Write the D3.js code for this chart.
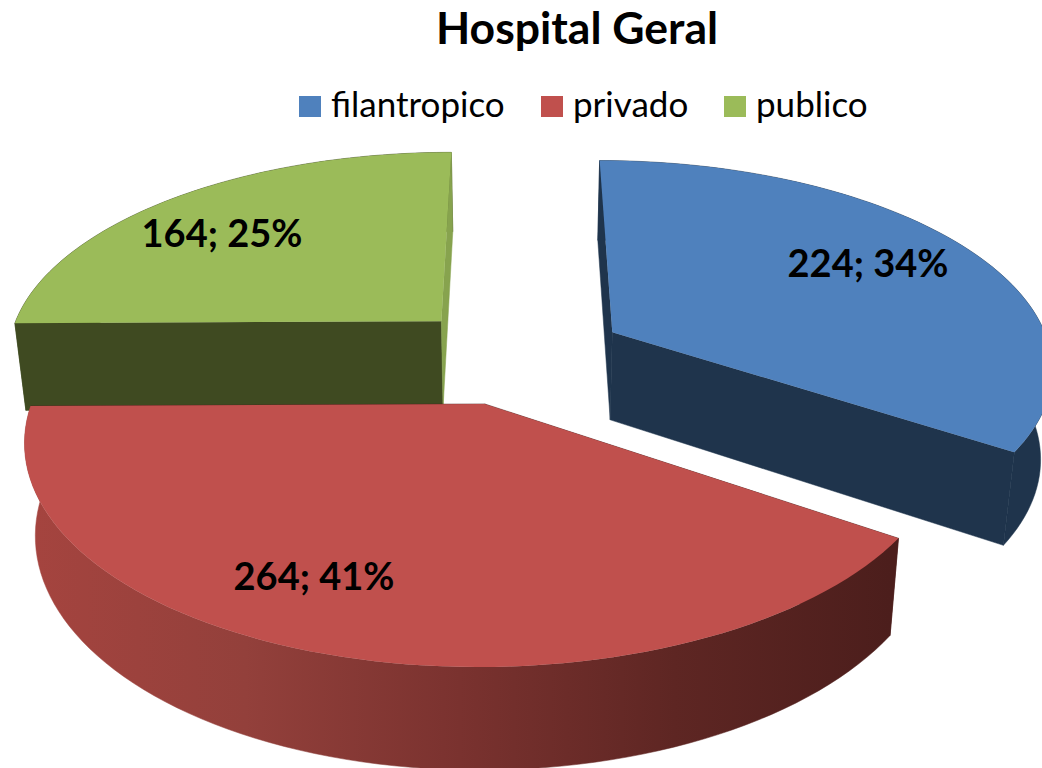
<!DOCTYPE html>
<html><head><meta charset="utf-8">
<script src="https://cdn.jsdelivr.net/npm/d3@7"></script>
<style>html,body{margin:0;padding:0;background:#fff;overflow:hidden}svg{display:block}text{font-family:Lato,"Open Sans",sans-serif}</style>
</head><body><svg id="c" width="1042" height="768"></svg>
<script>
const chartTitle = "Hospital Geral";
const categories = ["filantropico", "privado", "publico"];
const values = [224, 264, 164];
const percents = [34, 41, 25];
const topColors = ["#4F81BD", "#C0504D", "#9BBB59"];
const wallColors = ["#1F344C", "url(#redWall)", "#3F4A21"];
const startFaceColors = ["#1F344C", "#4C1E1C", "#3F4A21"];
const endFaceColors = ["#1F344C", "#4C1E1C", "#87A34E"];
const legendSwatchX = [299, 541, 724];
const labelPos = [[868, 264], [314, 577], [222, 234]];

const W = 1042, H = 768;
const svg = d3.select("#c").attr("viewBox", `0 0 ${W} ${H}`);
const defs = svg.append("defs");
const grad = defs.append("linearGradient").attr("id", "redWall")
  .attr("gradientUnits", "userSpaceOnUse").attr("x1", 30).attr("x2", 890).attr("y1", 0).attr("y2", 0);
[[0, "#A5443F"], [.25, "#93403B"], [.5, "#7A322F"], [.75, "#5E2623"], [1, "#4C1E1C"]]
  .forEach(([o, c]) => grad.append("stop").attr("offset", o).attr("stop-color", c));

// projection of the tilted pie plane
const cx = 517, cy = 355, AxLeft = 437, AxRight = 440, Ay = 205, persp = 0.156, explodeX = 0.25, explodeY = 0.24;
const xS = d3.scaleLinear().domain([-1, 0, 1]).range([cx - AxLeft, cx, cx + AxRight]);
const yS = d3.scaleLinear().domain([0, 1]).range([cy, cy + Ay]);
const depthX = 0.978, depthY0 = 87, depthYk = 0.046, depthRef = 318;

function project(d, a, r, bottom) {
  const mid = (d.startAngle + d.endAngle) / 2;
  const u = r * Math.sin(a) + explodeX * Math.sin(mid);
  const v = -r * Math.cos(a) - explodeY * Math.cos(mid);
  const s = 1 / (1 - persp * v);
  let x = xS(u * s), y = yS(v * s);
  if (bottom) { y = y + depthY0 + (y - depthRef) * depthYk; x = cx + (x - cx) * depthX; }
  return [x, y];
}
const line = d3.line();
const arcAngles = d => d3.range(0, 81).map(i => d.startAngle + (d.endAngle - d.startAngle) * i / 80);

const arcs = d3.pie().sort(null).startAngle(0).endAngle(2 * Math.PI)(values);
const order = [0, 2, 1];
order.forEach(i => {
  const d = arcs[i];
  const g = svg.append("g");
  const ang = arcAngles(d);
  const drawWall = () => g.append("path").attr("fill", wallColors[i]).attr("stroke", wallColors[i]).attr("stroke-width", .5)
    .attr("d", line([...ang.map(a => project(d, a, 1, false)), ...ang.slice().reverse().map(a => project(d, a, 1, true))]) + "Z");
  const drawFaces = () => [[d.startAngle, startFaceColors[i]], [d.endAngle, endFaceColors[i]]].forEach(([a, col]) => {
    g.append("path").attr("fill", col).attr("stroke", col).attr("stroke-width", .5).attr("d", line([
      project(d, a, 0, false), project(d, a, 1, false),
      project(d, a, 1, true), project(d, a, 0, true)]) + "Z");
  });
  // the back slices show their cut faces in front of the outer wall, the front slice the reverse
  if (i === 1) { drawFaces(); drawWall(); } else { drawWall(); drawFaces(); }
  g.append("path").attr("fill", topColors[i])
    .attr("d", line([project(d, 0, 0, false), ...ang.map(a => project(d, a, 1, false))]) + "Z");
});

svg.selectAll("text.lab").data(values).join("text").attr("class", "lab")
  .attr("x", (d, i) => labelPos[i][0]).attr("y", (d, i) => labelPos[i][1] + 13)
  .attr("text-anchor", "middle").attr("font-weight", 700).attr("font-size", 38).attr("fill", "#000")
  .text((d, i) => `${d}; ${percents[i]}%`);

svg.append("text").attr("x", 577).attr("y", 44).attr("text-anchor", "middle")
  .attr("font-weight", 700).attr("font-size", 44.5).attr("fill", "#000").text(chartTitle);

const lg = svg.selectAll("g.lg").data(categories).join("g").attr("class", "lg");
lg.append("rect").attr("x", (d, i) => legendSwatchX[i]).attr("y", 96).attr("width", 22).attr("height", 21)
  .attr("fill", (d, i) => topColors[i]);
lg.append("text").attr("x", (d, i) => legendSwatchX[i] + 32).attr("y", 117)
  .attr("font-size", 35).attr("fill", "#000").text(d => d);
</script></body></html>
